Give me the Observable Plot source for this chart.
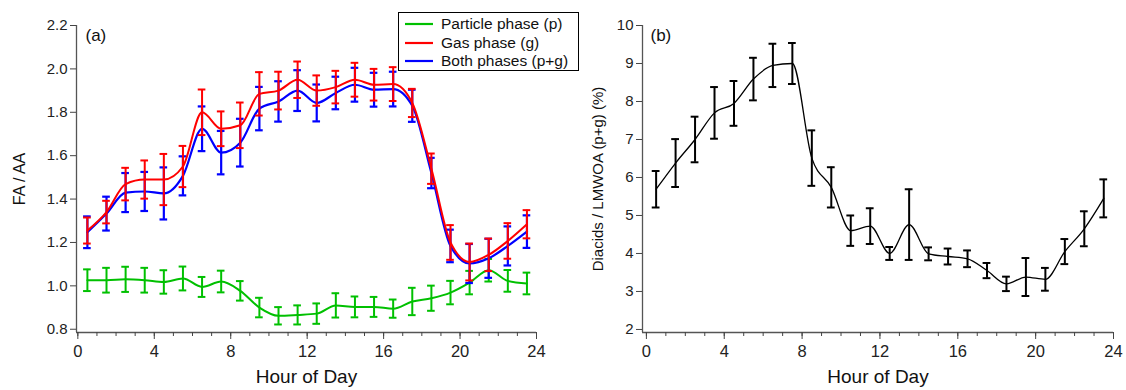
<!DOCTYPE html>
<html>
<head>
<meta charset="utf-8">
<script src="https://cdn.jsdelivr.net/npm/d3@7"></script>
<script src="https://cdn.jsdelivr.net/npm/@observablehq/plot@0.6"></script>
<style>
  body { margin: 0; background: #fff; }
  #wrap { position: relative; width: 1126px; height: 390px; font-family: "Liberation Sans", Arial, sans-serif; }
  #wrap > svg { position: absolute; top: 0; }
  #legend { position: absolute; left: 398px; top: 12px; width: 179px; height: 57px; border: 1px solid #000; background: #fff; font-size: 15.5px; color: #111; }
  .lrow { position: absolute; left: 6px; height: 18px; display: flex; align-items: center; white-space: nowrap; }
  .lrow svg { margin-right: 8px; }
</style>
</head>
<body>
<div id="wrap"></div>
<script>
// ---- data ----
const hours = [0.5, 1.5, 2.5, 3.5, 4.5, 5.5, 6.5, 7.5, 8.5, 9.5, 10.5, 11.5,
               12.5, 13.5, 14.5, 15.5, 16.5, 17.5, 18.5, 19.5, 20.5, 21.5, 22.5, 23.5];

const particle    = [1.026, 1.026, 1.030, 1.026, 1.018, 1.034, 0.995, 1.020, 0.977, 0.900, 0.862, 0.866,
                     0.872, 0.910, 0.903, 0.903, 0.895, 0.928, 0.943, 0.969, 1.015, 1.072, 1.023, 1.011];
const particleErr = [0.050, 0.057, 0.058, 0.057, 0.054, 0.055, 0.046, 0.050, 0.045, 0.045, 0.040, 0.044,
                     0.047, 0.056, 0.048, 0.046, 0.042, 0.063, 0.058, 0.054, 0.054, 0.052, 0.050, 0.050];

const gas         = [1.255, 1.340, 1.469, 1.490, 1.490, 1.550, 1.800, 1.724, 1.740, 1.885, 1.900, 1.950,
                     1.900, 1.916, 1.950, 1.927, 1.930, 1.843, 1.540, 1.200, 1.110, 1.143, 1.207, 1.284];
const gasErr      = [0.060, 0.052, 0.075, 0.088, 0.118, 0.095, 0.105, 0.080, 0.105, 0.100, 0.087, 0.084,
                     0.070, 0.075, 0.078, 0.073, 0.078, 0.065, 0.070, 0.080, 0.085, 0.075, 0.082, 0.065];

const both        = [1.247, 1.333, 1.430, 1.435, 1.426, 1.507, 1.724, 1.614, 1.660, 1.817, 1.850, 1.900,
                     1.843, 1.889, 1.927, 1.904, 1.907, 1.830, 1.520, 1.184, 1.103, 1.127, 1.184, 1.250];
const bothErr     = [0.073, 0.078, 0.090, 0.090, 0.120, 0.090, 0.103, 0.100, 0.110, 0.100, 0.093, 0.094,
                     0.085, 0.075, 0.078, 0.078, 0.080, 0.074, 0.070, 0.075, 0.090, 0.090, 0.090, 0.075];

const diacid      = [5.69, 6.38, 7.00, 7.70, 7.95, 8.59, 8.95, 9.00, 6.51, 5.74, 4.60, 4.72,
                     4.00, 4.76, 3.99, 3.92, 3.86, 3.55, 3.20, 3.38, 3.32, 4.05, 4.65, 5.45];
const diacidErr   = [0.48, 0.63, 0.60, 0.68, 0.59, 0.56, 0.57, 0.54, 0.73, 0.53, 0.40, 0.47,
                     0.17, 0.93, 0.17, 0.21, 0.22, 0.20, 0.19, 0.50, 0.30, 0.33, 0.46, 0.50];

const seriesNames = ["Particle phase (p)", "Gas phase (g)", "Both phases (p+g)"];
const seriesColors = ["#00c000", "#ff0000", "#0000ff"];

const xMajorTicks = [0, 4, 8, 12, 16, 20, 24];
const xMinorTicks = [0, 1, 2, 3, 4, 5, 6, 7, 8, 9, 10, 11, 12, 13, 14, 15, 16, 17, 18, 19, 20, 21, 22, 23, 24];
const yTicksA = [0.8, 1.0, 1.2, 1.4, 1.6, 1.8, 2.0, 2.2];
const yTicksB = [2, 3, 4, 5, 6, 7, 8, 9, 10];

const xDomainA = [-0.07, 24];
const yDomainA = [0.785, 2.2];
const xDomainB = [-0.2, 24];
const yDomainB = [1.92, 10];

// ---- tables ----
const mk = (vals, errs) => hours.map((h, i) => ({h, v: vals[i], e: errs[i]}));
const rowsP = mk(particle, particleErr);
const rowsG = mk(gas, gasErr);
const rowsB = mk(both, bothErr);
const rowsD = mk(diacid, diacidErr);

const FONT = "'Liberation Sans', Arial, sans-serif";
const CAP = 0.2;

function errMarks(rows, color, w) {
  return [
    Plot.ruleX(rows, {x: "h", y1: d => d.v - d.e, y2: d => d.v + d.e, stroke: color, strokeWidth: w}),
    Plot.ruleY(rows, {y: d => d.v + d.e, x1: d => d.h - CAP, x2: d => d.h + CAP, stroke: color, strokeWidth: w}),
    Plot.ruleY(rows, {y: d => d.v - d.e, x1: d => d.h - CAP, x2: d => d.h + CAP, stroke: color, strokeWidth: w})
  ];
}

function axes(xDom, yDom, yTicks, yFmt, yLabel, yLabelDx, yLabelSize, panelLabel, panelDx) {
  return [
    Plot.ruleY([yDom[0]], {stroke: "#555", strokeWidth: 1.3}),
    Plot.ruleX([xDom[0]], {stroke: "#555", strokeWidth: 1.3}),
    Plot.axisX(xMinorTicks, {anchor: "bottom", tickSize: 4, tickFormat: () => "", label: null, stroke: "#444"}),
    Plot.axisX(xMajorTicks, {anchor: "bottom", tickSize: 7, tickPadding: 6, fontSize: 16.5, label: null, color: "#222", stroke: "#444", tickFormat: d3.format("d")}),
    Plot.axisY(yTicks, {anchor: "left", tickSize: 6, tickPadding: 3, fontSize: 15, label: null, color: "#222", stroke: "#444", tickFormat: yFmt}),
    Plot.text([yLabel], {text: d => d, frameAnchor: "left", dx: yLabelDx, rotate: -90, textAnchor: "middle", lineAnchor: "middle", fontSize: yLabelSize, fill: "#111"}),
    Plot.text(["Hour of Day"], {text: d => d, frameAnchor: "bottom", dy: 44, textAnchor: "middle", lineAnchor: "middle", fontSize: 19, fill: "#111"}),
    Plot.text([panelLabel], {text: d => d, frameAnchor: "top-left", dx: panelDx, dy: 10, textAnchor: "start", lineAnchor: "middle", fontSize: 17, fill: "#111"})
  ];
}

const chartA = Plot.plot({
  width: 575, height: 390,
  marginLeft: 76, marginRight: 39, marginTop: 25, marginBottom: 58,
  style: {fontFamily: FONT, background: "transparent", overflow: "visible"},
  x: {domain: xDomainA, label: null},
  y: {domain: yDomainA, label: null},
  marks: [
    ...axes(xDomainA, yDomainA, yTicksA, d3.format(".1f"), "FA / AA", -57, 16, "(a)", 9),
    ...errMarks(rowsP, seriesColors[0], 2),
    Plot.line(rowsP, {x: "h", y: "v", stroke: seriesColors[0], strokeWidth: 2, curve: "monotone-x"}),
    ...errMarks(rowsB, seriesColors[2], 2.2),
    Plot.line(rowsB, {x: "h", y: "v", stroke: seriesColors[2], strokeWidth: 2.2, curve: "monotone-x"}),
    ...errMarks(rowsG, seriesColors[1], 2),
    Plot.line(rowsG, {x: "h", y: "v", stroke: seriesColors[1], strokeWidth: 2, curve: "monotone-x"})
  ]
});
chartA.style.left = "0px";

const chartB = Plot.plot({
  width: 551, height: 390,
  marginLeft: 67, marginRight: 13, marginTop: 25, marginBottom: 58,
  style: {fontFamily: FONT, background: "transparent", overflow: "visible"},
  x: {domain: xDomainB, label: null},
  y: {domain: yDomainB, label: null},
  marks: [
    ...axes(xDomainB, yDomainB, yTicksB, d3.format("d"), "Diacids / LMWOA (p+g) (%)", -44, 15, "(b)", 8),
    ...errMarks(rowsD, "#000", 2),
    Plot.line(rowsD, {x: "h", y: "v", stroke: "#000", strokeWidth: 1.3, curve: "monotone-x"})
  ]
});
chartB.style.left = "575px";

const wrap = document.getElementById("wrap");
wrap.appendChild(chartA);
wrap.appendChild(chartB);

// legend
const legend = document.createElement("div");
legend.id = "legend";
seriesNames.forEach((name, i) => {
  const row = document.createElement("div");
  row.className = "lrow";
  row.style.top = (2 + i * 18.5) + "px";
  row.innerHTML = `<svg width="28" height="6"><line x1="0" y1="3" x2="28" y2="3" stroke="${seriesColors[i]}" stroke-width="2.2"/></svg><span>${name}</span>`;
  legend.appendChild(row);
});
wrap.appendChild(legend);
</script>
</body>
</html>
